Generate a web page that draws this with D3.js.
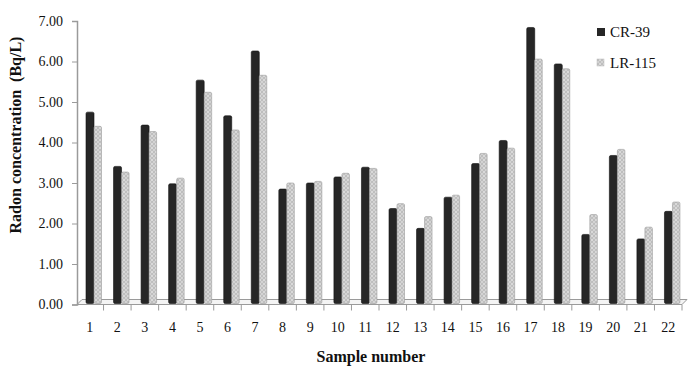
<!DOCTYPE html>
<html>
<head>
<meta charset="utf-8">
<script src="https://cdn.jsdelivr.net/npm/d3@7"></script>
<style>
  body { margin: 0; background: #fff; }
  svg { display: block; }
  text { font-family: "Liberation Serif", "Times New Roman", serif; fill: #111; }
</style>
</head>
<body>
<div id="chart"></div>
<script>
// data
const samples = ["1","2","3","4","5","6","7","8","9","10","11","12","13","14","15","16","17","18","19","20","21","22"];
const cr39 = [4.75, 3.41, 4.43, 2.98, 5.54, 4.66, 6.26, 2.85, 3.00, 3.15, 3.39, 2.37, 1.88, 2.65, 3.48, 4.05, 6.84, 5.94, 1.73, 3.68, 1.62, 2.30];
const lr115 = [4.40, 3.27, 4.27, 3.12, 5.24, 4.31, 5.66, 3.00, 3.04, 3.24, 3.36, 2.49, 2.17, 2.70, 3.73, 3.86, 6.06, 5.82, 2.22, 3.83, 1.91, 2.53];
const yTicks = [0, 1, 2, 3, 4, 5, 6, 7];
const seriesNames = ["CR-39", "LR-115"];

const width = 696, height = 375;

const svg = d3.select("#chart").append("svg")
  .attr("width", width)
  .attr("height", height);

// dotted fill for LR-115
const defs = svg.append("defs");
const pat = defs.append("pattern")
  .attr("id", "dots")
  .attr("patternUnits", "userSpaceOnUse")
  .attr("width", 4)
  .attr("height", 4);
pat.append("rect").attr("width", 4).attr("height", 4).attr("fill", "#d9d9d9");
pat.append("circle").attr("cx", 2).attr("cy", 2).attr("r", 1.3)
  .attr("fill", "#fff").attr("stroke", "#8a8a8a").attr("stroke-width", 0.6);

const x = d3.scaleBand().domain(samples).range([76, 682]);
const y = d3.scaleLinear().domain([0, 7]).range([304.5, 21]);

const barW = 8;
const depth = 5; // fake 3d depth of the floor

// floor (3d base)
const y0 = y(0);
svg.append("path")
  .attr("d", `M77,${y0} L${682},${y0} L${682 + depth},${y0 - depth} L${77 + depth},${y0 - depth} Z`)
  .attr("fill", "#f4f4f4")
  .attr("stroke", "#9a9a9a")
  .attr("stroke-width", 1);

// y axis
const yAxis = svg.append("g").attr("transform", "translate(77,0)")
  .call(d3.axisLeft(y).tickValues(yTicks).tickFormat(d3.format(".2f")).tickSize(5).tickPadding(9));
yAxis.select(".domain").attr("stroke", "#9a9a9a").attr("stroke-width", 1.5);
yAxis.selectAll(".tick line").attr("stroke", "#9a9a9a");
yAxis.selectAll(".tick text").style("font-size", "14px").attr("fill", "#111");

// x axis ticks at band edges
const xAxis = svg.append("g").attr("transform", `translate(0,${y0})`);
xAxis.append("line")
  .attr("x1", 77).attr("x2", 682).attr("stroke", "#9a9a9a");
xAxis.selectAll("line.tk")
  .data(samples)
  .join("line")
  .attr("class", "tk")
  .attr("x1", (d) => x(d) + x.bandwidth())
  .attr("x2", (d) => x(d) + x.bandwidth())
  .attr("y1", 0).attr("y2", 6)
  .attr("stroke", "#9a9a9a");
xAxis.selectAll("text")
  .data(samples)
  .join("text")
  .attr("x", (d) => x(d) + x.bandwidth() / 2)
  .attr("y", 27)
  .attr("text-anchor", "middle")
  .style("font-size", "14px")
  .text((d) => d);

// bars
const bars = svg.append("g");
bars.selectAll("rect.cr")
  .data(cr39)
  .join("rect")
  .attr("class", "cr")
  .attr("x", (d, i) => x(samples[i]) + 10)
  .attr("y", (d) => y(d))
  .attr("width", barW)
  .attr("height", (d) => y0 - 1 - y(d))
  .attr("rx", 1.5)
  .attr("fill", "#262626")
  .attr("stroke", "#111")
  .attr("stroke-width", 0.6);

bars.selectAll("rect.lr")
  .data(lr115)
  .join("rect")
  .attr("class", "lr")
  .attr("x", (d, i) => x(samples[i]) + 10 + barW)
  .attr("y", (d) => y(d))
  .attr("width", barW - 0.5)
  .attr("height", (d) => y0 - 1 - y(d))
  .attr("rx", 1.5)
  .attr("fill", "url(#dots)")
  .attr("stroke", "#9a9a9a")
  .attr("stroke-width", 0.6);

// legend
const legend = svg.append("g");
legend.append("rect").attr("x", 597).attr("y", 28).attr("width", 8).attr("height", 8).attr("fill", "#262626");
legend.append("text").attr("x", 610).attr("y", 37).style("font-size", "15px").text(seriesNames[0]);
legend.append("rect").attr("x", 597).attr("y", 59).attr("width", 7).attr("height", 7)
  .attr("fill", "url(#dots)").attr("stroke", "#bbb").attr("stroke-width", 0.5);
legend.append("text").attr("x", 610).attr("y", 68).style("font-size", "15px").text(seriesNames[1]);

// axis titles
svg.append("text")
  .attr("x", 371).attr("y", 362)
  .attr("text-anchor", "middle")
  .style("font-size", "16px").style("font-weight", "bold")
  .text("Sample number");

svg.append("text")
  .attr("transform", "translate(21,135) rotate(-90)")
  .attr("text-anchor", "middle")
  .style("font-size", "16px").style("font-weight", "bold")
  .attr("xml:space", "preserve")
  .text("Radon concentration  (Bq/L)");
</script>
</body>
</html>
